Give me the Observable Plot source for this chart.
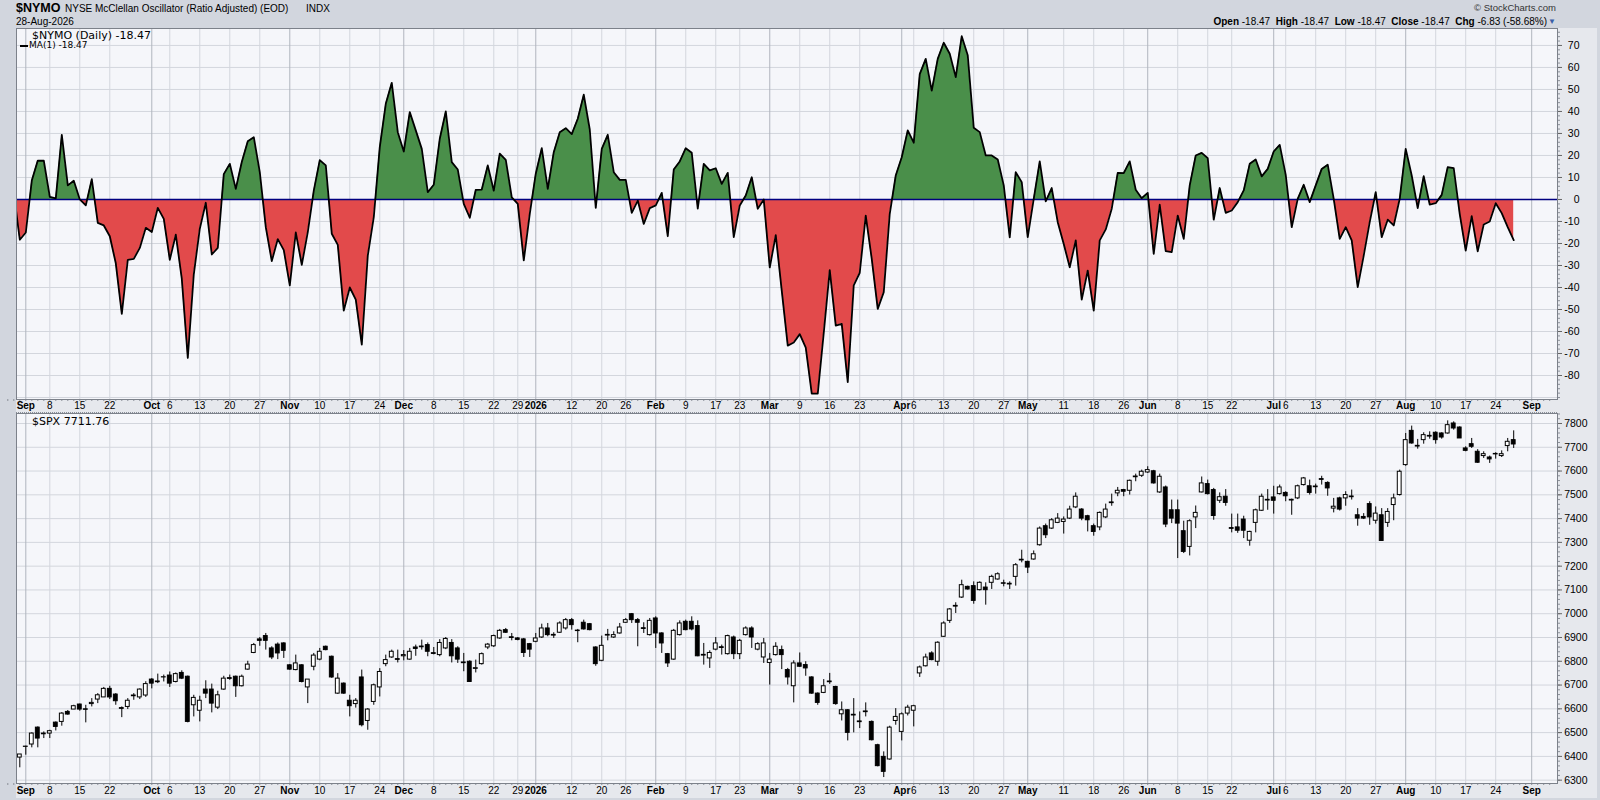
<!DOCTYPE html>
<html>
<head>
<meta charset="utf-8">
<script src="https://cdn.jsdelivr.net/npm/d3@7"></script>
<script src="https://cdn.jsdelivr.net/npm/@observablehq/plot@0.6"></script>
<style>
html,body{margin:0;padding:0;background:#d2d6de;}
#chart{position:relative;width:1600px;height:800px;background:#d2d6de;overflow:hidden;font-family:"Liberation Sans",Arial,sans-serif;color:#000;}
.abs{position:absolute;white-space:nowrap;line-height:1;z-index:3;}
.strip{position:absolute;background:#e6e8ed;z-index:0;}
#chart svg{position:absolute;left:0;z-index:1;}
.dv{font-family:"DejaVu Sans",Verdana,sans-serif;}
</style>
</head>
<body>
<div id="chart">
  <div class="strip" style="left:16px;top:399px;width:1541px;height:14px;border-top:1px dotted #8a8f98;border-bottom:1px dotted #8a8f98;box-sizing:border-box;"></div>
  <div class="strip" style="left:16px;top:783px;width:1541px;height:15px;border-top:1px dotted #8a8f98;box-sizing:border-box;"></div>
  <div class="strip" style="left:1557px;top:28px;width:40px;height:770px;"></div>

  <div class="abs" style="left:16px;top:2px;font-size:12.5px;font-weight:bold;">$NYMO</div>
  <div class="abs" style="left:65px;top:4px;font-size:10px;">NYSE McClellan Oscillator (Ratio Adjusted) (EOD)</div>
  <div class="abs" style="left:306px;top:4px;font-size:10px;">INDX</div>
  <div class="abs" style="left:16px;top:17px;font-size:10px;">28-Aug-2026</div>
  <div class="abs" style="right:44px;top:3px;font-size:9.5px;color:#333;">&copy; StockCharts.com</div>
  <div class="abs" style="right:53px;top:17px;font-size:10px;"><b>Open</b> -18.47&nbsp; <b>High</b> -18.47&nbsp; <b>Low</b> -18.47&nbsp; <b>Close</b> -18.47&nbsp; <b>Chg</b> -6.83 (-58.68%)</div>
  <div class="abs" style="right:44px;top:18px;font-size:8px;color:#3a5fa8;">&#9660;</div>

  <svg class="abs" style="left:19px;top:32px;" width="10" height="8"><polygon points="0,7 3,1 5,4 7,0 9,7" fill="#3f8a3f"/></svg>
  <div class="abs dv" style="left:32px;top:30px;font-size:11px;">$NYMO (Daily) -18.47</div>
  <div class="abs" style="left:20px;top:45px;width:8px;height:2px;background:#000;"></div>
  <div class="abs dv" style="left:29px;top:41px;font-size:9px;">MA(1) -18.47</div>

  <svg class="abs" style="left:18px;top:416px;" width="12" height="10">
    <line x1="2" y1="0" x2="2" y2="10" stroke="#000"/><rect x="0.5" y="2.5" width="3" height="5" fill="#000" stroke="#000"/>
    <line x1="6" y1="0" x2="6" y2="10" stroke="#000"/><rect x="4.5" y="2.5" width="3" height="5" fill="#fff" stroke="#000"/>
    <line x1="10" y1="0" x2="10" y2="10" stroke="#000"/><rect x="8.5" y="2.5" width="3" height="5" fill="#000" stroke="#000"/>
  </svg>
  <div class="abs dv" style="left:32px;top:416px;font-size:11px;">$SPX 7711.76</div>
</div>
<script>
// ---------- calendar ----------
const holidays = ["2025-11-27","2025-12-25","2026-01-01","2026-01-19","2026-02-16","2026-04-03","2026-05-25","2026-06-19","2026-07-03","2026-09-07"];
const calendarStart = "2025-08-28";
const calendarEnd = "2026-09-04";
const indexZeroDate = "2025-09-02";
const nymoStart = "2025-08-28";
const spxStart = "2025-08-29";

// ---------- x-axis labels ----------
const monthTickDates = ["2025-09-02","2025-10-01","2025-11-03","2025-12-01","2026-01-02","2026-02-02","2026-03-02","2026-04-01","2026-05-01","2026-06-01","2026-07-01","2026-08-03","2026-09-01"];
const monthTickLabels = ["Sep","Oct","Nov","Dec","2026","Feb","Mar","Apr","May","Jun","Jul","Aug","Sep"];
const dayTickDates = ["2025-09-08","2025-09-15","2025-09-22","2025-10-06","2025-10-13","2025-10-20","2025-10-27","2025-11-10","2025-11-17","2025-11-24","2025-12-08","2025-12-15","2025-12-22","2025-12-29","2026-01-12","2026-01-20","2026-01-26","2026-02-09","2026-02-17","2026-02-23","2026-03-09","2026-03-16","2026-03-23","2026-04-06","2026-04-13","2026-04-20","2026-04-27","2026-05-11","2026-05-18","2026-05-26","2026-06-08","2026-06-15","2026-06-22","2026-07-06","2026-07-13","2026-07-20","2026-07-27","2026-08-10","2026-08-17","2026-08-24"];
const dayTickLabels = ["8","15","22","6","13","20","27","10","17","24","8","15","22","29","12","20","26","9","17","23","9","16","23","6","13","20","27","11","18","26","8","15","22","6","13","20","27","10","17","24"];

// ---------- y-axis labels ----------
const nymoTicks = [70,60,50,40,30,20,10,0,-10,-20,-30,-40,-50,-60,-70,-80];
const spxTicks = [7800,7700,7600,7500,7400,7300,7200,7100,7000,6900,6800,6700,6600,6500,6400,6300];

// ---------- $NYMO daily values (from 2025-08-28) ----------
const nymoValues = [8,3,
-18.3,-15,8.6,17.7,17.6,1.2,0.5,29.4,6.4,8.5,
0,-2.7,9.2,-10.6,-11.8,-16.7,-29,-52,-27.4,-27,
-22,-12.9,-14.8,-3.8,-8.8,-27.4,-16,-36,-72,-34,
-13.3,-1.5,-25,-22,11.5,16.2,4.8,17,26.5,28.3,
12.4,-12.6,-28,-18,-23,-39,-15,-29.7,-14.8,4,
17.9,15.5,-15.6,-20.6,-50.5,-40,-45.5,-66,-25.5,-8,
23.8,43.5,53,30.6,21.8,39.7,31.4,23,3.3,6.7,
27.6,40,17,13.6,-2,-8.3,4.4,4.5,15.5,4,
20.8,18,1,-2,-27.7,-6.5,11.7,23.3,4.8,21.5,
30.6,32.4,29.7,36.7,47.6,31.8,-3.8,23,29.4,12.4,
8.9,8.9,-6.1,-0.5,-11.1,-3.9,-2.7,3,-16.7,13.6,
17.3,23.3,21.2,-4.2,16.2,13.2,14.2,7.1,12.1,-17.1,
-2.7,1.8,10.1,-4.2,0,-30.9,-16.2,-41.4,-66.4,-65,
-61.2,-67.3,-88.2,-88.2,-60.6,-32.1,-57.3,-56.5,-83,-39,
-33.3,-7.3,-27,-49.7,-42.1,-6.5,10.9,19.2,31.4,25.8,
57,63.9,49.5,63.9,71.2,66.2,55.6,74.2,65.5,32.6,
30.6,20,20,18.2,6.4,-17.2,12.4,7.9,-17.1,0.3,
17.3,-0.9,5.2,-10.3,-20.2,-30.8,-18.6,-45.5,-32.3,-50.5,
-18.6,-13.6,-4.2,12.1,12,17.3,4.4,0.6,3,-24.7,
-2.4,-23.5,-23.9,-7.3,-17.9,6.4,20,21.2,18.8,-9.2,
5.2,-6.1,-5,-1.2,4.1,16.2,18.2,10.5,13.9,21.8,
24.8,11.2,-12.6,0.3,6.7,-1.2,6.4,13.9,15.8,0.3,
-17.9,-12.6,-18.6,-39.8,-25.5,-10.3,3.3,-17.1,-9.2,-11.8,
0.3,23,10.9,-3.9,10.6,-2.3,-1.7,2.1,14.7,14.2,
-6.5,-23.2,-7.6,-23.6,-11.4,-10,-1.7,-6.2,-12.6,-18.47];

// ---------- $SPX daily OHLC (from 2025-08-29) ----------
const spxOpen = [6485,
6395,6440,6450,6521,6496,6496,6542,6545,6587,6597,
6618,6598,6620,6639,6648,6684,6660,6603,6608,6653,
6648,6656,6723,6715,6732,6740,6713,6751,6735,6615,
6592,6681,6681,6605,6681,6729,6735,6695,6765,6835,
6892,6906,6854,6870,6875,6783,6763,6783,6690,6777,
6807,6861,6819,6664,6706,6634,6620,6732,6549,6629,
6690,6788,6816,6809,6821,6807,6858,6859,6868,6834,
6826,6854,6877,6854,6795,6798,6768,6788,6858,6863,
6896,6931,6901,6896,6892,6872,6882,6900,6938,6911,
6920,6938,6973,6929,6962,6956,6858,6802,6908,6900,
6917,6962,6998,6973,6939,6910,6980,6917,6830,6807,
6910,6966,6966,6948,6827,6812,6849,6859,6830,6900,
6830,6910,6938,6849,6816,6793,6826,6847,6763,6695,
6791,6784,6732,6664,6667,6715,6692,6577,6594,6575,
6547,6589,6545,6447,6398,6387,6549,6503,6580,6592,
6749,6779,6833,6798,6903,6970,7033,7068,7113,7116,
7099,7110,7130,7144,7128,7126,7155,7227,7218,7228,
7288,7368,7358,7382,7386,7400,7447,7438,7410,7368,
7363,7405,7468,7506,7520,7517,7577,7580,7594,7599,
7510,7531,7435,7435,7347,7281,7405,7510,7545,7520,
7475,7492,7360,7363,7396,7307,7382,7433,7479,7489,
7503,7508,7479,7485,7541,7536,7535,7566,7550,7442,
7485,7485,7493,7414,7407,7461,7391,7414,7382,7457,
7499,7625,7769,7706,7730,7748,7761,7758,7758,7800,
7783,7695,7713,7681,7663,7657,7670,7663,7705,7730];
const spxHigh = [6490,
6408,6443,6499,6524,6503,6510,6545,6584,6593,6615,
6620,6615,6643,6664,6690,6695,6664,6608,6643,6664,
6684,6714,6727,6746,6742,6755,6751,6760,6738,6657,
6653,6718,6704,6674,6737,6742,6738,6742,6800,6875,
6900,6917,6861,6877,6878,6786,6826,6786,6723,6833,
6854,6864,6822,6748,6709,6657,6643,6763,6601,6704,
6769,6826,6847,6847,6845,6854,6868,6889,6877,6858,
6891,6900,6891,6861,6833,6802,6805,6835,6875,6910,
6934,6938,6917,6900,6896,6875,6917,6956,6959,6920,
6966,6980,6980,6934,6973,6959,6861,6906,6934,6924,
6959,6980,7001,6980,6962,6980,6987,6920,6833,6934,
6970,6973,6987,6970,6875,6844,6900,6868,6910,6906,
6892,6945,6945,6878,6896,6833,6878,6864,6770,6802,
6835,6798,6735,6667,6723,6749,6695,6629,6597,6643,
6587,6625,6549,6451,6419,6527,6601,6583,6615,6615,
6780,6830,6840,6882,6966,7022,7046,7141,7116,7134,
7134,7130,7162,7172,7141,7134,7211,7267,7221,7264,
7365,7377,7400,7421,7407,7452,7508,7442,7414,7377,
7428,7461,7503,7531,7523,7562,7587,7604,7618,7603,
7587,7537,7478,7478,7389,7395,7453,7575,7562,7527,
7508,7522,7419,7419,7410,7347,7440,7503,7522,7536,
7541,7513,7482,7541,7573,7562,7545,7578,7555,7485,
7490,7513,7520,7442,7421,7471,7449,7442,7442,7503,
7604,7758,7789,7733,7761,7765,7765,7761,7811,7807,
7786,7702,7737,7690,7681,7663,7677,7685,7737,7769];
const spxLow = [6437,
6352,6405,6436,6436,6475,6475,6507,6527,6573,6597,
6590,6541,6608,6622,6648,6639,6615,6563,6597,6636,
6639,6648,6684,6706,6713,6690,6709,6723,6541,6566,
6545,6643,6583,6597,6678,6720,6648,6692,6762,6832,
6863,6847,6807,6807,6812,6762,6760,6709,6622,6760,
6802,6844,6728,6661,6661,6566,6603,6524,6510,6615,
6650,6777,6812,6793,6802,6804,6821,6847,6819,6827,
6819,6849,6793,6791,6756,6713,6751,6784,6849,6858,
6892,6917,6886,6886,6816,6816,6878,6896,6903,6896,
6917,6931,6931,6878,6931,6928,6779,6798,6886,6896,
6914,6959,6959,6861,6917,6906,6854,6833,6774,6804,
6906,6928,6928,6819,6784,6770,6844,6826,6826,6807,
6807,6906,6854,6844,6791,6700,6822,6765,6700,6625,
6774,6737,6661,6615,6664,6703,6615,6549,6465,6499,
6517,6566,6465,6356,6311,6384,6531,6465,6570,6524,
6732,6776,6802,6779,6900,6959,7001,7064,7099,7040,
7096,7036,7102,7141,7113,7102,7116,7214,7169,7225,
7284,7316,7354,7379,7335,7396,7442,7391,7344,7326,
7349,7400,7452,7492,7492,7499,7555,7573,7590,7545,
7506,7362,7379,7232,7253,7243,7358,7508,7499,7393,
7464,7452,7340,7338,7316,7284,7340,7430,7435,7419,
7499,7471,7414,7480,7537,7499,7503,7541,7494,7424,
7432,7452,7478,7368,7396,7372,7377,7306,7363,7391,
7495,7620,7713,7692,7713,7734,7713,7734,7755,7772,
7737,7681,7695,7632,7653,7632,7650,7657,7681,7695];
const spxClose = [6454,
6408,6441,6496,6475,6493,6506,6524,6580,6576,6611,
6597,6596,6625,6657,6684,6648,6632,6600,6634,6656,
6681,6704,6706,6712,6733,6706,6746,6727,6545,6646,
6634,6664,6622,6657,6727,6726,6695,6735,6786,6868,
6886,6886,6816,6833,6844,6765,6791,6713,6723,6824,
6840,6847,6732,6727,6664,6611,6634,6531,6597,6699,
6755,6805,6840,6806,6826,6840,6852,6862,6840,6831,
6877,6894,6821,6807,6792,6713,6771,6830,6870,6906,
6928,6920,6898,6890,6835,6849,6896,6938,6910,6908,
6959,6973,6952,6927,6934,6931,6788,6865,6911,6910,
6942,6973,6973,6962,6936,6970,6917,6875,6791,6928,
6959,6931,6934,6821,6824,6835,6875,6856,6906,6830,
6886,6938,6900,6872,6875,6807,6861,6826,6732,6791,
6777,6770,6664,6625,6695,6712,6620,6594,6499,6572,
6544,6586,6468,6359,6335,6521,6566,6577,6605,6611,
6774,6816,6805,6878,6959,7018,7030,7120,7102,7054,
7130,7099,7155,7166,7126,7123,7204,7224,7194,7250,
7358,7330,7393,7400,7396,7438,7492,7400,7393,7344,
7424,7438,7465,7517,7513,7559,7574,7597,7604,7548,
7576,7375,7400,7379,7260,7389,7424,7548,7503,7411,
7490,7466,7357,7349,7349,7344,7435,7492,7476,7475,
7531,7494,7476,7536,7569,7508,7532,7563,7527,7450,
7438,7499,7490,7400,7400,7405,7421,7306,7428,7485,
7597,7730,7716,7703,7751,7745,7730,7741,7793,7779,
7737,7685,7702,7635,7671,7649,7672,7671,7723,7711.76];

// ---------- build ----------
const fmt = d3.utcFormat("%Y-%m-%d");
const tradingDays = d3.utcDay.range(new Date(calendarStart), d3.utcDay.offset(new Date(calendarEnd), 1))
  .map(fmt)
  .filter(s => { const wd = new Date(s).getUTCDay(); return wd > 0 && wd < 6 && !holidays.includes(s); });
const zeroPos = tradingDays.indexOf(indexZeroDate);
const idx = s => tradingDays.indexOf(s) - zeroPos;

const nymo0 = idx(nymoStart);
const nymoRows = nymoValues.map((v, k) => ({i: nymo0 + k, v}));
const spx0 = idx(spxStart);
const spxRows = spxOpen.map((o, k) => ({i: spx0 + k, o, h: spxHigh[k], l: spxLow[k], c: spxClose[k]}));

const monthIdx = monthTickDates.map(idx);
const dayIdx = dayTickDates.map(idx);
const labelOf = new Map([...monthIdx.map((d, k) => [d, monthTickLabels[k]]), ...dayIdx.map((d, k) => [d, dayTickLabels[k]])]);
const allDays = d3.range(idx(calendarStart), idx(calendarEnd) + 1);

const W = 1600, ML = 16, MR = 43;
const xDomain = [-1.55, 255.3];
const gridC = "#d3d6dd", monthC = "#b0b5be", frameC = "#7c818a";
const baseStyle = {background: "transparent", fontFamily: "'Liberation Sans', Arial, sans-serif", fontSize: "10px", color: "#000", overflow: "visible"};

function xAxes(pad) {
  return [
    Plot.axisX(allDays, {anchor: "bottom", tickSize: 2, tickFormat: () => "", stroke: "#8a8f98", label: null}),
    Plot.axisX(monthIdx, {anchor: "bottom", tickSize: 0, tickPadding: pad, tickFormat: d => labelOf.get(d), fontWeight: "bold", fontSize: 10, label: null}),
    Plot.axisX(dayIdx, {anchor: "bottom", tickSize: 0, tickPadding: pad, tickFormat: d => labelOf.get(d), fontSize: 10, label: null})
  ];
}

// ---------- top: $NYMO ----------
const topPlot = Plot.plot({
  width: W, height: 385,
  marginLeft: ML, marginRight: MR, marginTop: 0, marginBottom: 14,
  x: {type: "linear", domain: xDomain, label: null},
  y: {domain: [-90.9, 77.7], label: null},
  style: baseStyle,
  marks: [
    Plot.frame({fill: "#f5f6fa", stroke: null}),
    Plot.ruleY(d3.range(-90, 80, 10), {stroke: gridC}),
    Plot.ruleX(dayIdx, {stroke: gridC}),
    Plot.ruleX(monthIdx, {stroke: monthC}),
    Plot.areaY(nymoRows, {x: "i", y1: 0, y2: "v", fill: "#4a8f4a"}),
    Plot.areaY(nymoRows, {x: "i", y1: 0, y2: "v", fill: "#e24a4b"}),
    Plot.ruleY([0], {stroke: "#000080", strokeWidth: 1.5}),
    Plot.line(nymoRows, {x: "i", y: "v", stroke: "#000", strokeWidth: 1.8, clip: true}),
    Plot.axisY(d3.range(-90, 78, 2), {anchor: "right", tickSize: 2, tickFormat: () => "", stroke: "#8a8f98", label: null}),
    Plot.axisY(nymoTicks, {anchor: "right", tickSize: 4, tickFormat: () => "", stroke: "#666", label: null}),
    Plot.text(nymoTicks, {y: d => d, frameAnchor: "right", dx: 22, textAnchor: "end", text: d => String(d), fontSize: 10.5}),
    ...xAxes(2),
    Plot.frame({stroke: frameC})
  ]
});
topPlot.style.top = "28px";
document.getElementById("chart").appendChild(topPlot);
(function clipAreas() {
  const y0 = topPlot.scale("y").apply(0);
  const svg = d3.select(topPlot);
  const defs = svg.insert("defs", ":first-child");
  defs.append("clipPath").attr("id", "clipPos").append("rect").attr("x", ML).attr("y", 0).attr("width", W - ML - MR).attr("height", y0);
  defs.append("clipPath").attr("id", "clipNeg").append("rect").attr("x", ML).attr("y", y0).attr("width", W - ML - MR).attr("height", 371 - y0);
  const areas = topPlot.querySelectorAll('g[aria-label="area"]');
  areas[0].setAttribute("clip-path", "url(#clipPos)");
  areas[1].setAttribute("clip-path", "url(#clipNeg)");
})();

// ---------- bottom: $SPX candles ----------
const botPlot = Plot.plot({
  width: W, height: 385,
  marginLeft: ML, marginRight: MR, marginTop: 0, marginBottom: 15,
  x: {type: "linear", domain: xDomain, label: null},
  y: {domain: [6286, 7842], label: null},
  style: baseStyle,
  marks: [
    Plot.frame({fill: "#f5f6fa", stroke: null}),
    Plot.ruleY(d3.range(6300, 7900, 100), {stroke: gridC}),
    Plot.ruleX(dayIdx, {stroke: gridC}),
    Plot.ruleX(monthIdx, {stroke: monthC}),
    Plot.ruleX(spxRows, {x: "i", y1: "l", y2: "h", stroke: "#000", strokeWidth: 1, clip: true}),
    Plot.rect(spxRows, {filter: d => d.c >= d.o, x1: d => d.i - 0.32, x2: d => d.i + 0.32, y1: "o", y2: "c", fill: "#fff", stroke: "#000", strokeWidth: 1, clip: true}),
    Plot.rect(spxRows, {filter: d => d.c < d.o, x1: d => d.i - 0.32, x2: d => d.i + 0.32, y1: "o", y2: "c", fill: "#000", stroke: "#000", strokeWidth: 1, clip: true}),
    Plot.axisY(d3.range(6300, 7850, 20), {anchor: "right", tickSize: 2, tickFormat: () => "", stroke: "#8a8f98", label: null}),
    Plot.axisY(spxTicks, {anchor: "right", tickSize: 4, tickFormat: () => "", stroke: "#666", label: null}),
    Plot.text(spxTicks, {y: d => d, frameAnchor: "right", dx: 30, textAnchor: "end", text: d => String(d), fontSize: 10.5}),
    ...xAxes(3),
    Plot.frame({stroke: frameC})
  ]
});
botPlot.style.top = "413px";
document.getElementById("chart").appendChild(botPlot);
</script>
</body>
</html>
